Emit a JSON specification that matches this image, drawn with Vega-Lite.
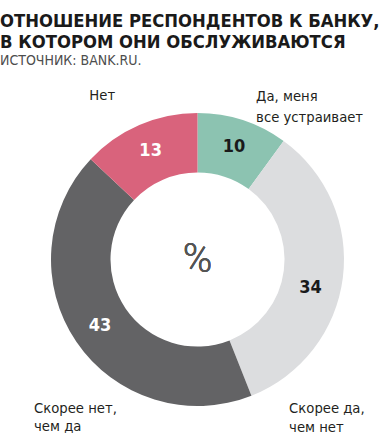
{
  "$schema": "https://vega.github.io/schema/vega-lite/v6.json",
  "autosize": "none",
  "width": 395,
  "height": 351,
  "padding": {"top": 84, "left": 0, "right": 0, "bottom": 0},
  "background": "white",
  "title": {
    "text": ["ОТНОШЕНИЕ РЕСПОНДЕНТОВ К БАНКУ,", "В КОТОРОМ ОНИ ОБСЛУЖИВАЮТСЯ"],
    "subtitle": "ИСТОЧНИК: BANK.RU.",
    "anchor": "start",
    "frame": "group",
    "offset": 13,
    "font": "DejaVu Sans Condensed, sans-serif",
    "fontSize": 18.3,
    "fontWeight": "bold",
    "lineHeight": 21,
    "color": "#1a1a1a",
    "subtitleFont": "DejaVu Sans Condensed, sans-serif",
    "subtitleFontSize": 14,
    "subtitleColor": "#4d4d4d",
    "subtitlePadding": 1.5
  },
  "data": {
    "values": [
      {"i": 1, "k": "Да, меня все устраивает", "v": 10, "lab": "Да, меня\nвсе устраивает"},
      {"i": 2, "k": "Скорее да, чем нет", "v": 34, "lab": "Скорее да,\nчем нет"},
      {"i": 3, "k": "Скорее нет, чем да", "v": 43, "lab": "Скорее нет,\nчем да"},
      {"i": 4, "k": "Нет", "v": 13, "lab": "Нет"}
    ]
  },
  "encoding": {
    "theta": {"field": "v", "type": "quantitative", "stack": true},
    "order": {"field": "i", "type": "quantitative"}
  },
  "layer": [
    {
      "mark": {"type": "arc", "innerRadius": 87, "outerRadius": 146.5},
      "encoding": {
        "color": {
          "field": "k",
          "type": "nominal",
          "scale": {
            "domain": ["Да, меня все устраивает", "Скорее да, чем нет", "Скорее нет, чем да", "Нет"],
            "range": ["#8cc3b1", "#dcdddf", "#636365", "#d9637c"]
          },
          "legend": null
        }
      }
    },
    {
      "mark": {"type": "text", "radius": 118, "font": "DejaVu Sans Condensed, sans-serif", "fontSize": 18, "fontWeight": "bold", "fill": "white"},
      "encoding": {"text": {"condition": {"test": "datum.i == 3 || datum.i == 4", "field": "v", "type": "quantitative"}, "value": ""}}
    },
    {
      "mark": {"type": "text", "radius": 118, "font": "DejaVu Sans Condensed, sans-serif", "fontSize": 18, "fontWeight": "bold", "fill": "#1a1a1a"},
      "encoding": {"text": {"condition": {"test": "datum.i == 1", "field": "v", "type": "quantitative"}, "value": ""}}
    },
    {
      "mark": {"type": "text", "radius": 118, "dx": -4, "dy": 14, "font": "DejaVu Sans Condensed, sans-serif", "fontSize": 18, "fontWeight": "bold", "fill": "#1a1a1a"},
      "encoding": {"text": {"condition": {"test": "datum.i == 2", "field": "v", "type": "quantitative"}, "value": ""}}
    },
    {
      "mark": {"type": "text", "radius": 180, "dx": 3, "dy": 12.7, "align": "left", "baseline": "alphabetic", "lineBreak": "\n", "lineHeight": 21, "font": "DejaVu Sans Condensed, sans-serif", "fontSize": 14.7, "fill": "#231f20"},
      "encoding": {"text": {"condition": {"test": "datum.i == 1", "field": "lab"}, "value": ""}}
    },
    {
      "mark": {"type": "text", "radius": 180, "dx": -87, "dy": 131, "align": "left", "baseline": "alphabetic", "lineBreak": "\n", "lineHeight": 18.5, "font": "DejaVu Sans Condensed, sans-serif", "fontSize": 14.7, "fill": "#231f20"},
      "encoding": {"text": {"condition": {"test": "datum.i == 2", "field": "lab"}, "value": ""}}
    },
    {
      "mark": {"type": "text", "radius": 180, "dx": -14.6, "dy": 52, "align": "left", "baseline": "alphabetic", "lineBreak": "\n", "lineHeight": 18, "font": "DejaVu Sans Condensed, sans-serif", "fontSize": 14.7, "fill": "#231f20"},
      "encoding": {"text": {"condition": {"test": "datum.i == 3", "field": "lab"}, "value": ""}}
    },
    {
      "mark": {"type": "text", "radius": 180, "dx": -36.7, "dy": 5.7, "align": "left", "baseline": "alphabetic", "lineBreak": "\n", "font": "DejaVu Sans Condensed, sans-serif", "fontSize": 14.7, "fill": "#231f20"},
      "encoding": {"text": {"condition": {"test": "datum.i == 4", "field": "lab"}, "value": ""}}
    },
    {
      "mark": {"type": "text", "font": "Roboto, sans-serif", "fontWeight": 300, "fontSize": 40, "fill": "#555555", "baseline": "middle", "align": "center"},
      "encoding": {"text": {"value": "%"}, "theta": null, "order": null}
    }
  ]
}
